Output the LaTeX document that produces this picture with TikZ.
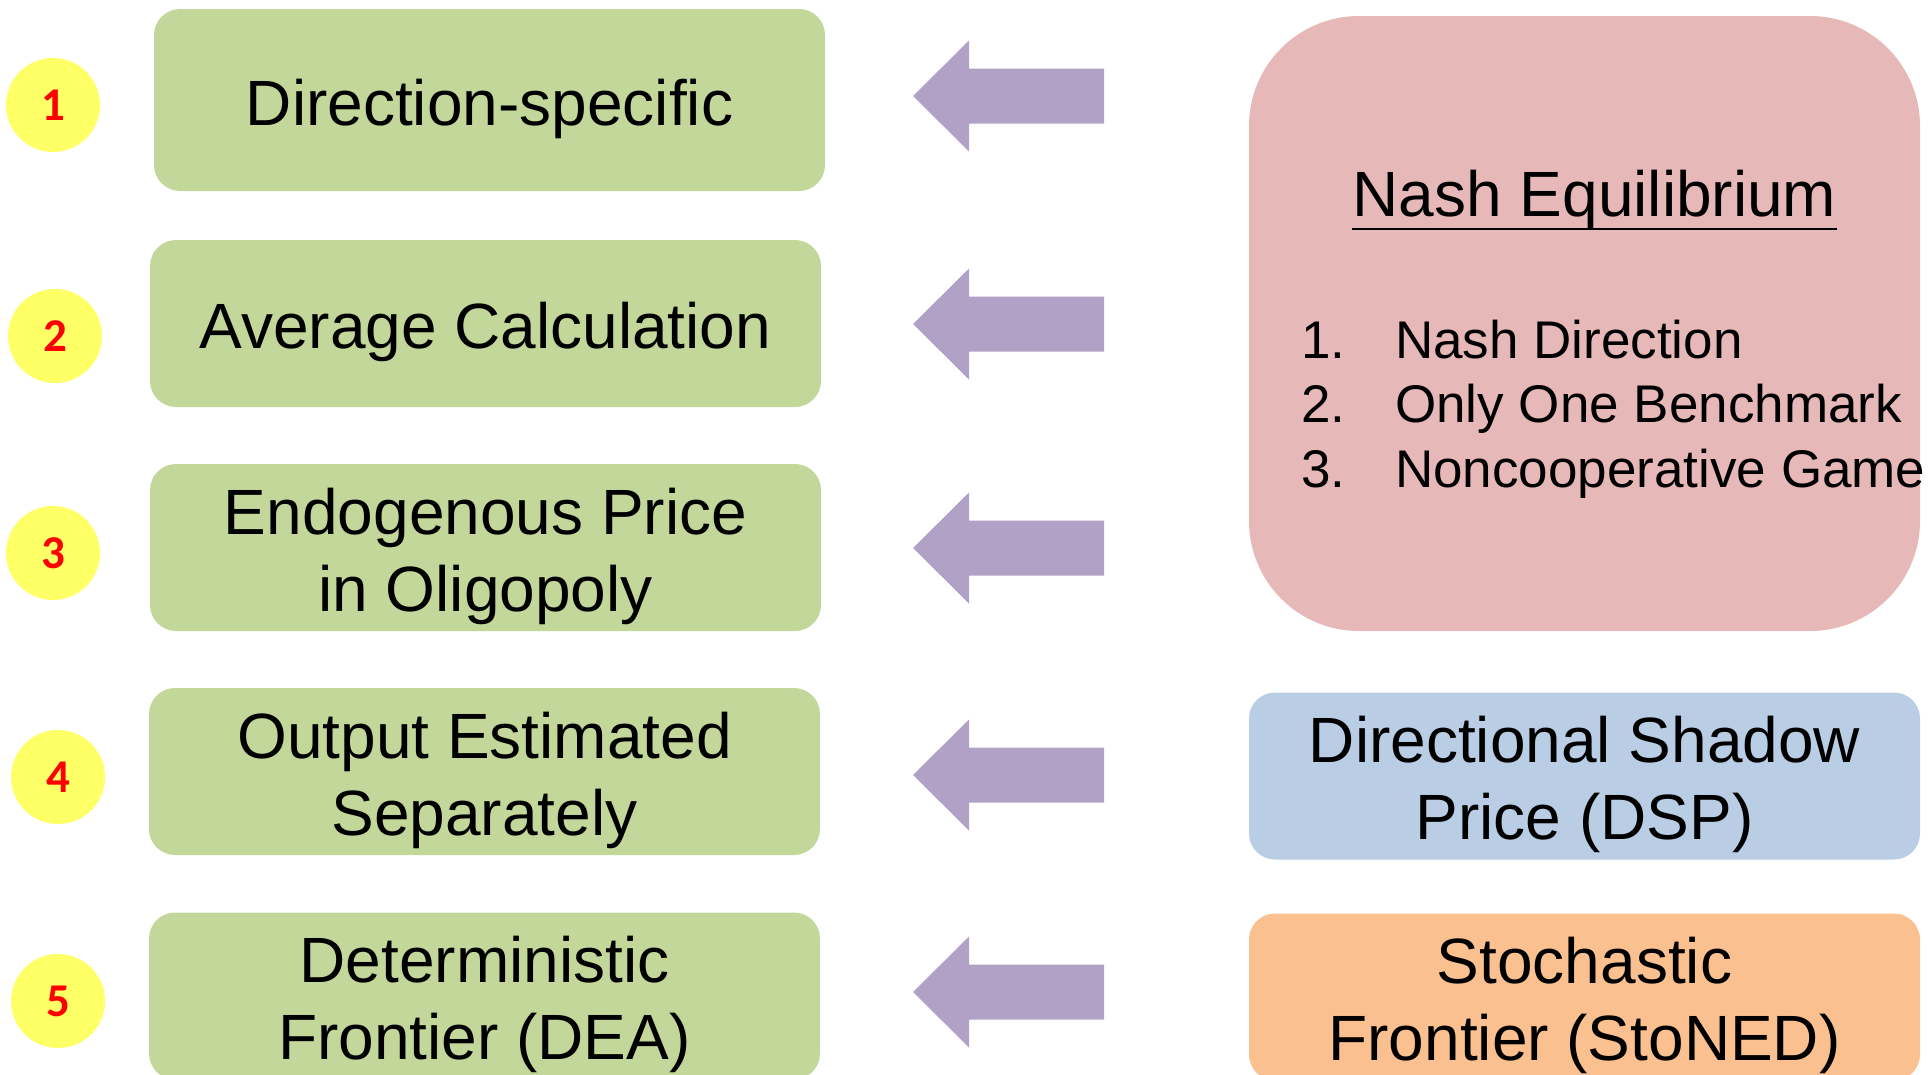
\documentclass[tikz,border=0pt]{standalone}
\usepackage{fontspec}
\setmainfont{Liberation Sans}
\newfontfamily\numfont{Carlito}
\definecolor{gfill}{HTML}{C4D79B}
\definecolor{pfill}{HTML}{E6B8B7}
\definecolor{bfill}{HTML}{B9CDE5}
\definecolor{ofill}{HTML}{FAC090}
\definecolor{afill}{HTML}{B2A1C7}
\definecolor{yfill}{HTML}{FFFF66}
\begin{document}
\begin{tikzpicture}[x=1pt,y=-1pt,
  box/.style={minimum width=671pt, minimum height=167pt, rounded corners=26pt, inner sep=0pt},
  boxtext/.style={inner sep=0pt, align=center, font=\fontsize{64}{77}\selectfont},
  gbox/.style={box, fill=gfill},
  bluebox/.style={box, fill=bfill},
  orbox/.style={box, fill=ofill},
  num/.style={circle, fill=yfill, minimum size=94pt, inner sep=0pt, text=red, font=\numfont\bfseries\fontsize{47}{50}\selectfont},
  arr/.style={fill=afill},
  itemtext/.style={anchor=base west, inner sep=0pt, font=\fontsize{53}{64}\selectfont}
]
\useasboundingbox (0,0) rectangle (1930,1074);
\clip (0,0) rectangle (1930,1074);

% numbers
\node[num] (n1) at (53,105) {1};
\node[num] (n2) at (55,336) {2};
\node[num] (n3) at (53,553) {3};
\node[num] (n4) at (58,777) {4};
\node[num] (n5) at (58,1001) {5};

% green boxes
\node[gbox, minimum height=182pt] (g1) at (489.5,100) {};
\node[gbox] (g2) at (485.5,323.5) {};
\node[gbox] (g3) at (485.5,547.5) {};
\node[gbox] (g4) at (484.5,771.5) {};
\node[gbox] (g5) at (484.5,996) {};
\node[boxtext] (g1t) at ([yshift=-8.5pt]g1.center) {Direction-specific};
\node[boxtext] (g2t) at ([yshift=-8.5pt]g2.center) {Average Calculation};
\node[boxtext] (g3t) at ([yshift=-8.5pt]g3.center) {Endogenous Price\\in Oligopoly};
\node[boxtext] (g4t) at ([yshift=-8.5pt]g4.center) {Output Estimated\\Separately};
\node[boxtext] (g5t) at ([yshift=-8.5pt]g5.center) {Deterministic\\Frontier (DEA)};

% right boxes
\node[fill=pfill, minimum width=671pt, minimum height=615pt, rounded corners=110pt, inner sep=0pt] (nash) at (1584.5,323.5) {};
\node[anchor=base, inner sep=0pt, font=\fontsize{64}{77}\selectfont] (nashT) at (1594.5,216) {Nash Equilibrium};
\draw[line width=2.6pt] ([yshift=-13pt]nashT.base west) -- ([yshift=-13pt]nashT.base east);
\node[itemtext] (i1n) at (1301,358) {1.};
\node[itemtext] (i1) at (1395,358) {Nash Direction};
\node[itemtext] (i2n) at (1301,422.5) {2.};
\node[itemtext] (i2) at (1395,422.5) {Only One Benchmark};
\node[itemtext] (i3n) at (1301,487) {3.};
\node[itemtext] (i3) at (1395,487) {Noncooperative Game};

\node[bluebox] (dsp) at (1584.5,776) {};
\node[boxtext] (dspt) at ([yshift=-8.5pt]dsp.center) {Directional Shadow\\Price (DSP)};
\node[orbox] (sto) at (1584.5,997) {};
\node[boxtext] (stot) at ([yshift=-8.5pt]sto.center) {Stochastic\\Frontier (StoNED)};

% block arrows
\foreach \yy/\nm in {96/a1,324/a2,548/a3,775/a4,992/a5}{
  \coordinate (\nm) at (913,\yy);
  \fill[arr] (\nm) -- ++(56,-55.5) -- ++(0,28) -- ++(135,0) -- ++(0,55) -- ++(-135,0) -- ++(0,28) -- cycle;
}
\end{tikzpicture}
\end{document}
